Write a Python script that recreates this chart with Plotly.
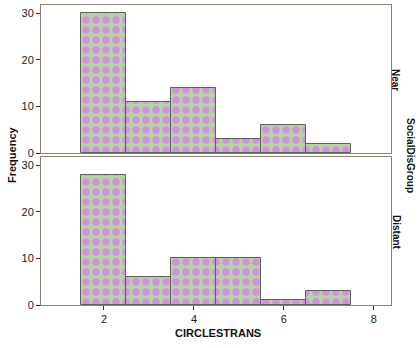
import plotly.graph_objects as go
from plotly.subplots import make_subplots

bins = [2, 3, 4, 5, 6, 7]
near = [30, 11, 14, 3, 6, 2]
distant = [28, 6, 10, 10, 1, 3]
x_ticks = [2, 4, 6, 8]
y_ticks = [0, 10, 20, 30]

W, H = 419, 348
ml, mr, mt, mb = 41, 28, 5, 43
pw, ph = W - ml - mr, H - mt - mb

def px_x(p):
    return (p - ml) / pw

def px_y(p):
    return (H - mb - p) / ph

fig = make_subplots(rows=2, cols=1, shared_xaxes=True, vertical_spacing=0.0)

bar_style = dict(
    color="#b9cda8",
    line=dict(color="#5f5f5f", width=1),
    pattern=dict(shape=".", fgcolor="#cf92de", bgcolor="#b9d0a6", fgopacity=1,
                 size=10, solidity=0.42, fillmode="replace"),
)

fig.add_trace(go.Bar(x=bins, y=near, width=1, marker=bar_style, showlegend=False), row=1, col=1)
fig.add_trace(go.Bar(x=bins, y=distant, width=1, marker=bar_style, showlegend=False), row=2, col=1)

font_family = "Liberation Sans, Arial, sans-serif"
axis_common = dict(showgrid=False, zeroline=False, showline=True, linecolor="#8c8070",
                   linewidth=1, mirror=True, ticks="outside", ticklen=4, tickcolor="#333",
                   tickfont=dict(family=font_family, size=11, color="#222"))

fig.update_xaxes(range=[0.6, 8.38], tickvals=x_ticks, **axis_common)
fig.update_xaxes(showticklabels=False, ticks="", row=1, col=1)
fig.update_yaxes(range=[0, 31.8], tickvals=y_ticks, **axis_common)

fig.update_layout(
    width=W, height=H,
    margin=dict(l=ml, r=mr, t=mt, b=mb),
    paper_bgcolor="white", plot_bgcolor="white",
    bargap=0,
    font=dict(family=font_family, color="#222"),
)
fig.layout.yaxis.domain = [px_y(153), 1]
fig.layout.yaxis2.domain = [0, px_y(157)]

ann_font = dict(family=font_family, size=10, color="#111")
def bold(t):
    return "<b>" + t + "</b>"

fig.add_annotation(text=bold("CIRCLESTRANS"), x=px_x(218), y=px_y(333), xref="paper", yref="paper",
                   showarrow=False, xanchor="center", yanchor="middle", font=dict(ann_font, size=11))
fig.add_annotation(text=bold("Frequency"), x=px_x(12), y=px_y(155), xref="paper", yref="paper",
                   showarrow=False, xanchor="center", yanchor="middle", textangle=-90, font=dict(ann_font, size=11))
fig.add_annotation(text=bold("Near"), x=px_x(396), y=px_y(80), xref="paper", yref="paper",
                   showarrow=False, xanchor="center", yanchor="middle", textangle=90, font=ann_font)
fig.add_annotation(text=bold("Distant"), x=px_x(396), y=px_y(232), xref="paper", yref="paper",
                   showarrow=False, xanchor="center", yanchor="middle", textangle=90, font=ann_font)
fig.add_annotation(text=bold("SocialDisGroup"), x=px_x(411), y=px_y(155), xref="paper", yref="paper",
                   showarrow=False, xanchor="center", yanchor="middle", textangle=90, font=ann_font)

fig.write_html("out.html", config={"displayModeBar": False},
               post_script="document.body.style.margin='0';document.body.style.overflow='hidden';")
